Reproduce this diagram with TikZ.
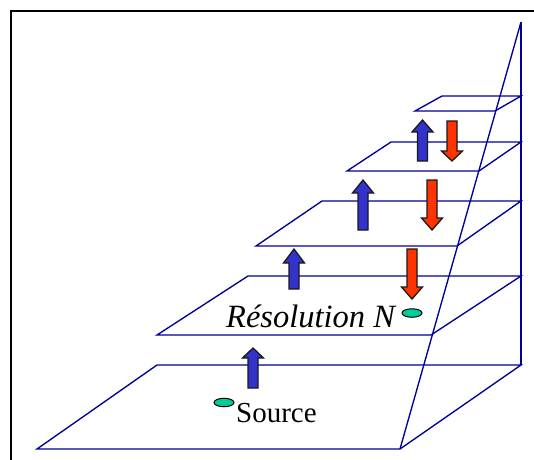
\documentclass[tikz,border=0pt]{standalone}
\usepackage{fontspec}
\setmainfont{Liberation Serif}
\usetikzlibrary{shapes.geometric}
\definecolor{planeblue}{RGB}{0,0,150}
\definecolor{upblue}{RGB}{51,51,204}
\definecolor{downred}{RGB}{255,51,0}
\definecolor{spotgreen}{RGB}{0,204,153}
% block arrow: #1 centre x, #2 tip y, #3 head base y, #4 tail y, #5 fill
\newcommand\blockarrow[5]{%
  \filldraw[arrowbox,fill=#5] ({#1-5},#4) -- ({#1-5},#3) -- ({#1-10.5},#3) -- (#1,#2)
    -- ({#1+10.5},#3) -- ({#1+5},#3) -- ({#1+5},#4) -- cycle;}
\begin{document}
\begin{tikzpicture}[x=1pt,y=-1pt,
  plane/.style={draw=planeblue,line width=1.35pt,line join=miter},
  arrowbox/.style={draw=black!90,line width=1.3pt,line join=miter},
  spot/.style={ellipse,draw=black,line width=1pt,fill=spotgreen,
    minimum width=20pt,minimum height=8.5pt,inner sep=0pt},
  lbl/.style={font=\fontsize{29}{29}\selectfont,inner sep=0pt,anchor=base west}]
\useasboundingbox (0,0) rectangle (534,459);
\begin{scope}
\clip (0,0) rectangle (534,459);
\draw[line width=2.2pt] (11,11) rectangle (560,480);
\end{scope}
% pyramid of resolution planes
\coordinate (apex) at (521,22);
\draw[plane] (37,449) -- (400,449) -- (521,365) -- (157,365) -- cycle;
\draw[plane] (157,335) -- (431,335) -- (521,276) -- (248,276) -- cycle;
\draw[plane] (256,246) -- (457,246) -- (521,201) -- (322,201) -- cycle;
\draw[plane] (347,171) -- (479,171) -- (521,142) -- (391,142) -- cycle;
\draw[plane] (415,111) -- (495,111) -- (521,96) -- (442,96) -- cycle;
\coordinate (base) at (400,449);
\coordinate (backbase) at (521,365);
\draw[plane] (apex) -- (base);
\draw[plane] (apex) -- (backbase);
% upward arrows
\blockarrow{253}{348}{358}{388}{upblue}
\blockarrow{294}{249}{263}{289}{upblue}
\blockarrow{363}{180}{193}{230}{upblue}
\blockarrow{422.5}{120}{132}{161}{upblue}
% downward arrows
\blockarrow{412}{299}{287}{249}{downred}
\blockarrow{432}{230}{218}{180}{downred}
\blockarrow{452}{161}{151}{121}{downred}
% source and target spots with labels
\node[spot] (src) at (224,402.5) {};
\node[spot] (tgt) at (412,313) {};
\node[lbl] (srclabel) at (236,422) {Source};
\node[lbl,font=\fontsize{32.5}{32.5}\selectfont\itshape] (reslabel) at (226,327) {Résolution N};
\end{tikzpicture}
\end{document}
